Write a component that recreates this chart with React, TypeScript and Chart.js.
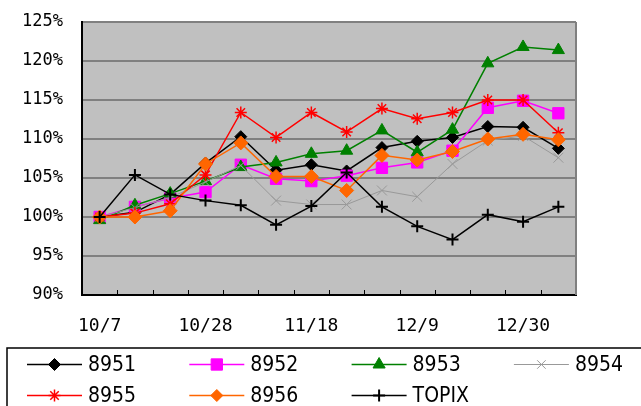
import React, { useEffect, useRef } from "react";
import { Chart, registerables } from "chart.js";
import { drawPoint } from "chart.js/helpers";

Chart.register(...registerables);

const dates = ["10/7", "10/14", "10/21", "10/28", "11/4", "11/11", "11/18", "11/25", "12/2", "12/9", "12/16", "12/23", "12/30", "1/6"];
const yTicks = [90, 95, 100, 105, 110, 115, 120, 125];

const s8951 = [100, 100.6, 102.9, 106.9, 110.3, 106.0, 106.7, 105.9, 108.9, 109.7, 110.2, 111.6, 111.5, 108.8];
const s8952 = [100, 101.3, 102.4, 103.2, 106.7, 104.9, 104.6, 105.3, 106.3, 107.0, 108.5, 114.0, 114.9, 113.3];
const s8953 = [99.6, 101.5, 103.0, 104.6, 106.4, 107.0, 108.1, 108.5, 111.1, 108.3, 111.2, 119.7, 121.8, 121.4];
const s8954 = [100, 101.2, 102.5, 104.5, 106.6, 102.1, 101.6, 101.6, 103.4, 102.6, 106.8, 109.8, 110.4, 107.6];
const s8955 = [100, 100.5, 101.7, 105.4, 113.4, 110.2, 113.4, 110.9, 113.9, 112.6, 113.4, 115.0, 115.0, 110.8];
const s8956 = [100, 100.0, 100.8, 106.8, 109.5, 105.2, 105.2, 103.4, 107.9, 107.3, 108.4, 110.0, 110.6, 109.9];
const sTopix = [100, 105.4, 102.9, 102.1, 101.5, 99.0, 101.4, 105.7, 101.3, 98.8, 97.1, 100.3, 99.4, 101.3];

const seriesNames = ["8951", "8952", "8953", "8954", "8955", "8956", "TOPIX"];

const frameColor = "#808080";

const excelPlugin = {
  id: "excelFrame",
  beforeDraw(chart: any) {
    const { ctx, chartArea } = chart;
    ctx.save();
    ctx.fillStyle = "#C0C0C0";
    ctx.fillRect(chartArea.left, chartArea.top, chartArea.right - chartArea.left, chartArea.bottom - chartArea.top);
    ctx.restore();
  },
  beforeDatasetsDraw(chart: any) {
    const { ctx, chartArea } = chart;
    const x = chart.scales.x;
    ctx.save();
    ctx.strokeStyle = frameColor;
    ctx.lineWidth = 2;
    ctx.beginPath();
    ctx.moveTo(chartArea.right, chartArea.top);
    ctx.lineTo(chartArea.right, chartArea.bottom);
    ctx.stroke();
    ctx.strokeStyle = "#000";
    ctx.lineWidth = 1;
    for (let i = 1; i < dates.length; i++) {
      const px = Math.round((x.getPixelForTick(i - 1) + x.getPixelForTick(i)) / 2) + 0.5;
      ctx.beginPath();
      ctx.moveTo(px, chartArea.bottom);
      ctx.lineTo(px, chartArea.bottom - 5);
      ctx.stroke();
    }
    ctx.restore();
  },
  afterDraw(chart: any) {
    const { ctx } = chart;
    ctx.save();
    ctx.strokeStyle = "#000";
    ctx.lineWidth = 1.5;
    ctx.strokeRect(7, 348, 700, 100);
    ctx.restore();
    chart.data.datasets.forEach((ds: any, i: number) => {
      const col = i % 4;
      const row = Math.floor(i / 4);
      const x0 = 27 + col * 162.3;
      const x1 = x0 + 55;
      const y = 364.5 + row * 31;
      ctx.save();
      ctx.strokeStyle = ds.borderColor;
      ctx.lineWidth = ds.borderWidth;
      ctx.beginPath();
      ctx.moveTo(x0, y);
      ctx.lineTo(x1, y);
      ctx.stroke();
      ctx.fillStyle = ds.pointBackgroundColor;
      ctx.strokeStyle = ds.pointBorderColor;
      ctx.lineWidth = ds.pointBorderWidth;
      drawPoint(ctx, {
        pointStyle: ds.pointStyle,
        radius: ds.legendRadius,
        rotation: 0,
        borderWidth: ds.pointBorderWidth,
      } as any, (x0 + x1) / 2, y);
      ctx.fillStyle = "#000";
      ctx.font = '21px "DejaVu Sans Condensed", "DejaVu Sans"';
      ctx.textBaseline = "middle";
      ctx.textAlign = "left";
      ctx.fillText(ds.label, 88 + col * 162.3, y + 1);
      ctx.restore();
    });
  },
};

function mk(label: string, data: number[], color: string, style: string, radius: number, lw: number, pbw: number, order: number, legendRadius: number) {
  return {
    label,
    data,
    borderColor: color,
    backgroundColor: color,
    borderWidth: lw,
    pointStyle: style,
    pointRadius: radius,
    pointBackgroundColor: color,
    pointBorderColor: color,
    pointBorderWidth: pbw,
    legendRadius,
    tension: 0,
    order,
  };
}

export default function App() {
  const ref = useRef<HTMLCanvasElement>(null);
  useEffect(() => {
    if (!ref.current) return;
    const chart = new Chart(ref.current, {
      type: "line",
      data: {
        labels: dates,
        datasets: [
          mk(seriesNames[0], s8951, "#000000", "rectRot", 6, 1.5, 1, 6, 6),
          mk(seriesNames[1], s8952, "#FF00FF", "rect", 8, 1.5, 1, 5, 8),
          mk(seriesNames[2], s8953, "#008000", "triangle", 7, 1.5, 1, 4, 7),
          mk(seriesNames[3], s8954, "#999999", "crossRot", 7, 1, 1, 3, 6),
          mk(seriesNames[4], s8955, "#FF0000", "star", 6, 1.5, 1.5, 2, 6),
          mk(seriesNames[5], s8956, "#FF6600", "rectRot", 7, 1.5, 1, 1, 6),
          mk(seriesNames[6], sTopix, "#000000", "cross", 6, 1.5, 2, 0, 6),
        ] as any,
      },
      options: {
        animation: false,
        responsive: true,
        maintainAspectRatio: false,
        layout: { padding: { left: 0, right: 65, top: 22, bottom: 66 } },
        plugins: { legend: { display: false }, tooltip: { enabled: false } },
        scales: {
          x: {
            type: "category",
            offset: true,
            grid: { display: true, drawOnChartArea: false, drawTicks: false },
            border: { display: true, color: "#000", width: 2 },
            ticks: {
              autoSkip: false,
              maxRotation: 0,
              padding: 21,
              color: "#000",
              font: { family: '"DejaVu Sans Mono"', size: 18 },
              callback: (_v: any, i: number) => (i % 3 === 0 ? dates[i] : ""),
            },
            afterFit: (s: any) => {
              s.height = 45;
              s.paddingLeft = 0;
              s.paddingRight = 0;
            },
          },
          y: {
            min: yTicks[0],
            max: yTicks[yTicks.length - 1],
            afterBuildTicks: (s: any) => {
              s.ticks = yTicks.map((v) => ({ value: v }));
            },
            grid: { color: frameColor, lineWidth: 2, drawTicks: false },
            border: { display: true, color: "#000", width: 2 },
            ticks: {
              padding: 19,
              color: "#000",
              font: { family: '"DejaVu Sans Mono"', size: 17 },
              callback: (v: any) => v + "%",
            },
            afterFit: (s: any) => {
              s.width = 82;
              s.paddingTop = 0;
              s.paddingBottom = 0;
            },
          },
        },
      },
      plugins: [excelPlugin],
    });
    return () => chart.destroy();
  }, []);
  return (
    <div style={{ position: "fixed", left: 0, top: 0, width: 641, height: 406, background: "#fff" }}>
      <canvas ref={ref} />
    </div>
  );
}
